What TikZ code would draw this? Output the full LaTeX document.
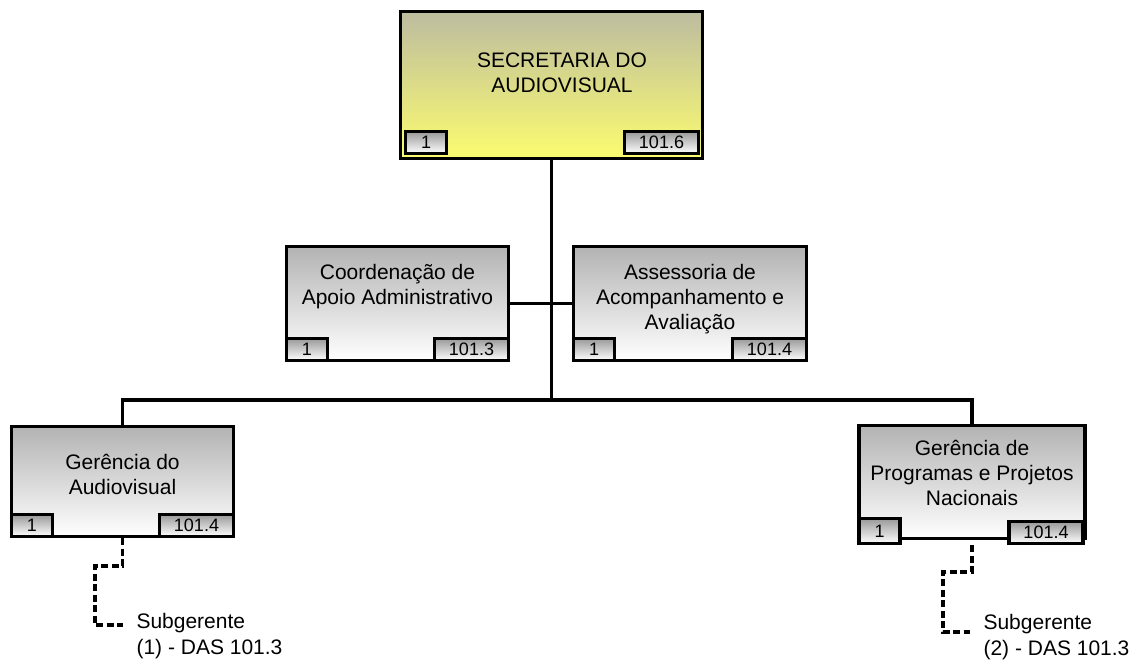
\documentclass[tikz,border=0pt]{standalone}
\usepackage{fontspec}
\setmainfont{Liberation Sans}
\usetikzlibrary{positioning}
\definecolor{secTop}{RGB}{188,188,160}
\definecolor{secBot}{RGB}{252,252,112}

\begin{document}
\begin{tikzpicture}[x=1pt,y=-1pt,
	unit/.style={draw, line width=3.2pt, top color=black!30, bottom color=white, inner sep=0pt},
	tag/.style={draw, line width=3.2pt, top color=black!40, bottom color=white, minimum width=41pt, minimum height=22pt, inner sep=0pt, font=\fontsize{18}{18}\selectfont},
	title/.style={align=center, font=\fontsize{21}{25}\selectfont},
	sublabel/.style={align=left, anchor=north west, font=\fontsize{21}{26}\selectfont},
	link/.style={line width=3.5pt},
	dashline/.style={line width=3.2pt, dash pattern=on 7pt off 3.5pt}]
	\useasboundingbox (0,0) rectangle (1137,664);

	% secretaria
	\node (sec) [unit, minimum width=302pt, minimum height=147pt, top color=secTop, bottom color=secBot] at (551.5,85) {};
	\node (secT) [title] at (562,73) {SECRETARIA DO\\AUDIOVISUAL};
	\node (sec1) [tag, anchor=south west] at ([xshift=5pt,yshift=5pt]sec.south west) {1};
	\node (sec2) [tag, minimum width=74pt, anchor=south east] at ([xshift=-4pt,yshift=5pt]sec.south east) {101.6};

	% assessorias
	\node (coord) [unit, minimum width=222pt, minimum height=114pt] at (397.5,303.5) {};
	\node (coordT) [title] at (397.5,287) {Coordenação de\\Apoio Administrativo};
	\node (coord1) [tag, anchor=south west] at (coord.south west) {1};
	\node (coord2) [tag, minimum width=74pt, anchor=south east] at (coord.south east) {101.3};

	\node (asses) [unit, minimum width=233pt, minimum height=114pt] at (690,303.5) {};
	\node (assesT) [title] at (690,299) {Assessoria de\\Acompanhamento e\\Avaliação};
	\node (asses1) [tag, anchor=south west] at (asses.south west) {1};
	\node (asses2) [tag, minimum width=74pt, anchor=south east] at (asses.south east) {101.4};

	% gerencias
	\node (gav) [unit, minimum width=222pt, minimum height=110pt] at (122.5,481.5) {};
	\node (gavT) [title] at (122.5,474) {Gerência do\\Audiovisual};
	\node (gav1) [tag, anchor=south west] at (gav.south west) {1};
	\node (gav2) [tag, minimum width=74pt, anchor=south east] at (gav.south east) {101.4};

	\node (gpp) [unit, minimum width=226pt, minimum height=113pt] at (972,482) {};
	\node (gppT) [title] at (972,473) {Gerência de\\Programas e Projetos\\Nacionais};
	\node (gpp1) [tag, minimum height=25pt, anchor=south west] at ([yshift=-5pt]gpp.south west) {1};
	\node (gpp2) [tag, minimum width=74pt, anchor=south east] at ([xshift=-2pt,yshift=-5pt]gpp.south east) {101.4};

	% subgerentes
	\node (sub1) [sublabel] at (133,610) {Subgerente\\(1) - DAS 101.3};
	\node (sub2) [sublabel] at (980,611) {Subgerente\\(2) - DAS 101.3};
	\coordinate (sub1in) at (123,625);
	\coordinate (sub2in) at (970,632);

	\coordinate (hub) at (sec.south |- 0,400);
	\draw[link] (sec.south) -- (hub);
	\draw[link] (coord.east) -- (asses.west);
	\draw[link] (gav.north) |- (hub) -| (gpp.north);
	\draw[dashline] (gav.south) |- (95,566) |- (sub1in);
	\draw[dashline] ([yshift=-5pt]gpp.south) |- (943,572) |- (sub2in);
\end{tikzpicture}
\end{document}
